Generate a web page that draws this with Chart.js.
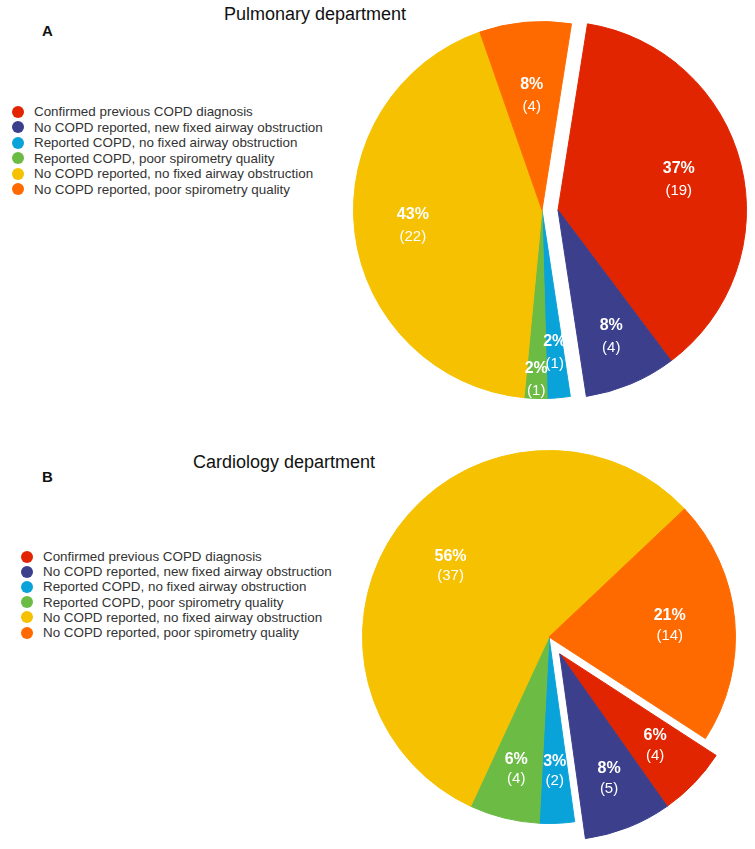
<!DOCTYPE html>
<html>
<head>
<meta charset="utf-8">
<title>COPD status by department</title>
<script src="https://cdn.jsdelivr.net/npm/chart.js@4.4.0/dist/chart.umd.min.js"></script>
<style>
  body { margin: 0; background: #fff; font-family: "Liberation Sans", Arial, sans-serif; }
  #page { position: relative; width: 755px; height: 849px; overflow: hidden; }
  .title { position: absolute; font-size: 18px; line-height: 20px; color: #111; white-space: nowrap; transform: translateX(-50%); }
  .panel { position: absolute; font-size: 15px; line-height: 16px; font-weight: bold; color: #111; }
  .legend { position: absolute; margin: 0; padding: 0; list-style: none; font-size: 13.4px; color: #333; }
  .legend li { position: relative; padding-left: 22px; white-space: nowrap; }
  .legend li span { position: absolute; left: 0; width: 12px; height: 12px; border-radius: 50%; }
  .chart-box { position: absolute; width: 420px; height: 420px; }
</style>
</head>
<body>
<div id="page">
  <div class="title" style="left:315px; top:4px;">Pulmonary department</div>
  <div class="panel" style="left:42px; top:23px;">A</div>
  <ul class="legend" id="legendPulmonary" style="left:12px; top:104px;"></ul>
  <div class="chart-box" style="left:332px; top:0px;"><canvas id="pulmonaryChart" width="420" height="420"></canvas></div>

  <div class="title" style="left:284px; top:452px;">Cardiology department</div>
  <div class="panel" style="left:42px; top:469px;">B</div>
  <ul class="legend" id="legendCardiology" style="left:21px; top:549px;"></ul>
  <div class="chart-box" style="left:339px; top:427px;"><canvas id="cardiologyChart" width="420" height="420"></canvas></div>
</div>

<script>
const categories = [
  'Confirmed previous COPD diagnosis',
  'No COPD reported, new fixed airway obstruction',
  'Reported COPD, no fixed airway obstruction',
  'Reported COPD, poor spirometry quality',
  'No COPD reported, no fixed airway obstruction',
  'No COPD reported, poor spirometry quality'
];
const sliceColors = ['#e12500', '#3b3f8c', '#0aa3d9', '#6cbb45', '#f5c100', '#ff6a00'];

const pulmonaryCounts = [19, 4, 1, 1, 22, 4];
const cardiologyCounts = [4, 5, 2, 4, 37, 14];

// shift for the pulled-out group of slices, along the group's middle angle
function groupShift(arcs, cfg) {
  const first = arcs[cfg.explode[0]];
  const last = arcs[cfg.explode[cfg.explode.length - 1]];
  const mid = (first.startAngle + last.endAngle) / 2;
  return { x: Math.cos(mid) * cfg.distance, y: Math.sin(mid) * cfg.distance };
}

function makePiePlugin(cfg) {
  return {
    id: 'pieExtras',
    beforeDatasetDraw(chart, args) {
      const ctx = chart.ctx;
      const arcs = args.meta.data;
      const shift = groupShift(arcs, cfg);
      arcs.forEach((arc, i) => {
        ctx.save();
        if (cfg.explode.includes(i)) ctx.translate(shift.x, shift.y);
        arc.draw(ctx);
        ctx.restore();
      });
      return false;
    },
    afterDatasetsDraw(chart) {
      const ctx = chart.ctx;
      const arcs = chart.getDatasetMeta(0).data;
      const values = chart.data.datasets[0].data;
      const total = values.reduce((a, b) => a + b, 0);
      const shift = groupShift(arcs, cfg);
      ctx.save();
      ctx.fillStyle = '#fff';
      ctx.textAlign = 'center';
      ctx.textBaseline = 'middle';
      arcs.forEach((arc, i) => {
        const mid = (arc.startAngle + arc.endAngle) / 2;
        const d = arc.outerRadius * cfg.labelRadius[i];
        let x = arc.x + Math.cos(mid) * d;
        let y = arc.y + Math.sin(mid) * d;
        if (cfg.explode.includes(i)) { x += shift.x; y += shift.y; }
        const pct = Math.round(values[i] / total * 100);
        ctx.font = 'bold 16px "Liberation Sans", Arial, sans-serif';
        ctx.fillText(pct + '%', x, y - cfg.lineGap / 2);
        ctx.font = '15px "Liberation Sans", Arial, sans-serif';
        ctx.fillText('(' + values[i] + ')', x, y + cfg.lineGap / 2);
      });
      ctx.restore();
    }
  };
}

function createPie(canvasId, counts, rotation, padding, cfg) {
  return new Chart(document.getElementById(canvasId), {
    type: 'pie',
    data: {
      labels: categories,
      datasets: [{
        data: counts,
        backgroundColor: sliceColors,
        borderColor: sliceColors,
        borderWidth: 1
      }]
    },
    options: {
      responsive: false,
      animation: false,
      rotation: rotation,
      layout: { padding: padding },
      plugins: {
        legend: { display: false },
        tooltip: { enabled: false }
      }
    },
    plugins: [makePiePlugin(cfg)]
  });
}

function buildLegend(chart, listId, rowHeight) {
  const list = document.getElementById(listId);
  const colors = chart.data.datasets[0].backgroundColor;
  list.innerHTML = chart.data.labels.map((label, i) => `
    <li style="height:${rowHeight}px; line-height:${rowHeight}px;">
      <span style="background:${colors[i]}; top:${(rowHeight - 12) / 2}px;"></span>${label}
    </li>
  `).join('');
}

const pulmonaryChart = createPie('pulmonaryChart', pulmonaryCounts, 9, 21, {
  explode: [0, 1], distance: 16, lineGap: 22,
  labelRadius: [0.66, 0.73, 0.76, 0.9, 0.69, 0.61]
});
const cardiologyChart = createPie('cardiologyChart', cardiologyCounts, 123, 23, {
  explode: [0, 1], distance: 20, lineGap: 20,
  labelRadius: [0.71, 0.72, 0.72, 0.73, 0.65, 0.65]
});

buildLegend(pulmonaryChart, 'legendPulmonary', 15.5);
buildLegend(cardiologyChart, 'legendCardiology', 15.2);
</script>
</body>
</html>
